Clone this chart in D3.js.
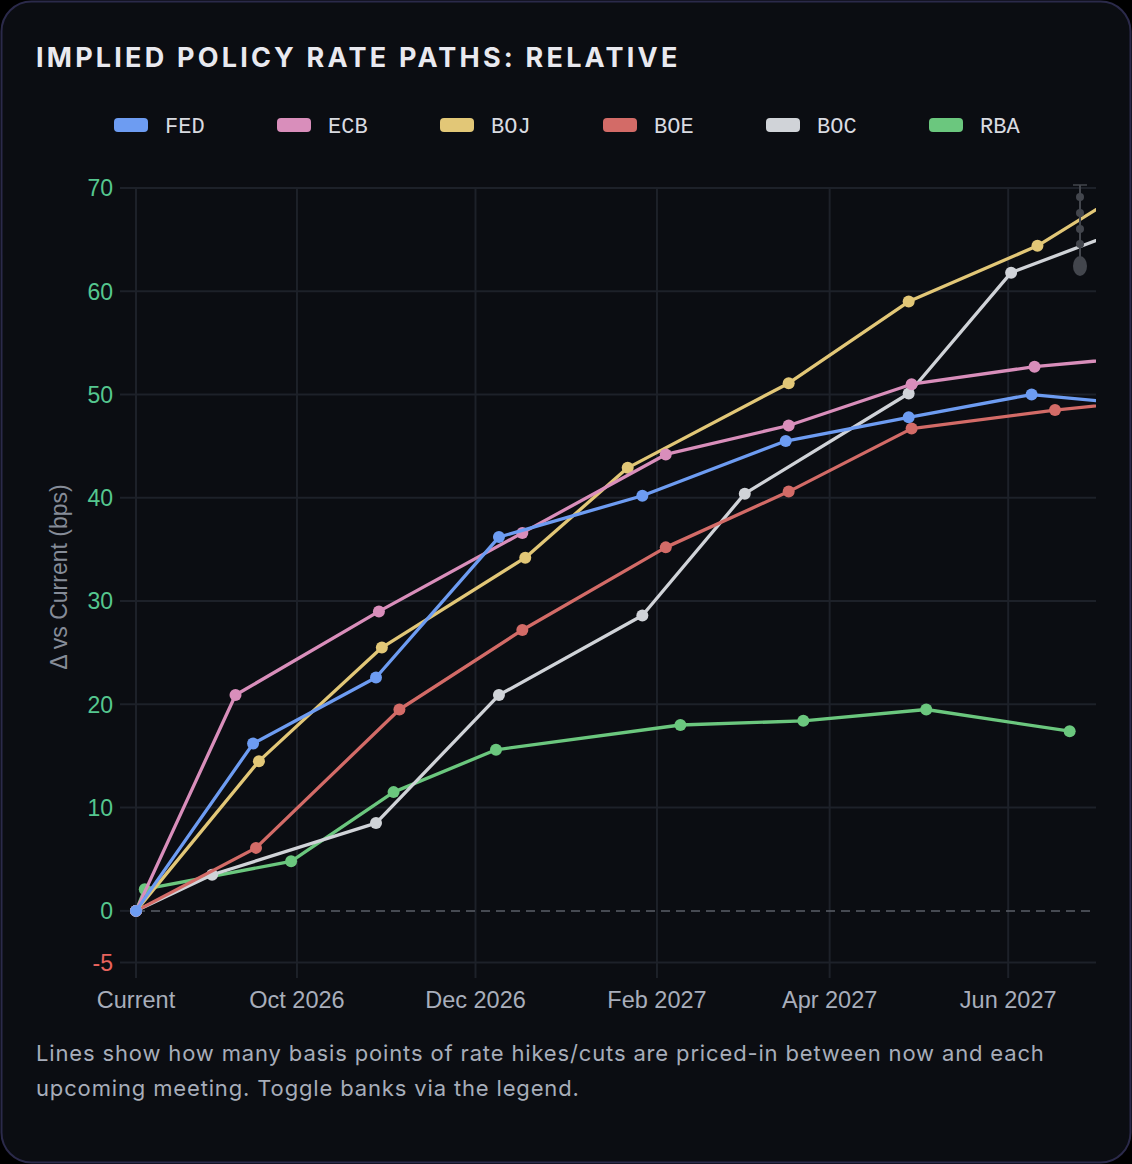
<!DOCTYPE html>
<html>
<head>
<meta charset="utf-8">
<script src="https://cdn.jsdelivr.net/npm/d3@7"></script>
<style>
  html, body { margin: 0; padding: 0; background: #000; }
  svg { display: block; }
</style>
</head>
<body>
<svg id="chart" width="1132" height="1164"></svg>
<script>
// ---- data ----
const banks = ['FED', 'ECB', 'BOJ', 'BOE', 'BOC', 'RBA'];
const bankColors = ['#6d9cf2', '#d98ebb', '#e2c777', '#d36b67', '#d0d3d8', '#6bc77e'];

const currentDate = '2026-08-07';
const endDate = '2027-07-01';
const xTickDates = ['2026-08-07', '2026-10-01', '2026-12-01', '2027-02-01', '2027-04-01', '2027-06-01'];
const yTickValues = [-5, 0, 10, 20, 30, 40, 50, 60, 70];

const fedDates = ['2026-08-07', '2026-09-16', '2026-10-28', '2026-12-09', '2027-01-27', '2027-03-17', '2027-04-28', '2027-06-09', '2027-07-28'];
const fedValues = [0, 16.2, 22.6, 36.2, 40.2, 45.5, 47.8, 50.0, 48.7];

const ecbDates = ['2026-08-07', '2026-09-10', '2026-10-29', '2026-12-17', '2027-02-04', '2027-03-18', '2027-04-29', '2027-06-10', '2027-07-22'];
const ecbValues = [0, 20.9, 29.0, 36.6, 44.2, 47.0, 51.0, 52.7, 53.8];

const bojDates = ['2026-08-07', '2026-09-18', '2026-10-30', '2026-12-18', '2027-01-22', '2027-03-18', '2027-04-28', '2027-06-11', '2027-07-30'];
const bojValues = [0, 14.5, 25.5, 34.2, 42.9, 51.1, 59.0, 64.4, 73.0];

const boeDates = ['2026-08-07', '2026-09-17', '2026-11-05', '2026-12-17', '2027-02-04', '2027-03-18', '2027-04-29', '2027-06-17', '2027-08-05'];
const boeValues = [0, 6.1, 19.5, 27.2, 35.2, 40.6, 46.7, 48.5, 49.9];

const bocDates = ['2026-08-07', '2026-09-02', '2026-10-28', '2026-12-09', '2027-01-27', '2027-03-03', '2027-04-28', '2027-06-02', '2027-07-14'];
const bocValues = [0, 3.5, 8.5, 20.9, 28.6, 40.4, 50.1, 61.8, 66.3];

const rbaDates = ['2026-08-07', '2026-08-10', '2026-09-29', '2026-11-03', '2026-12-08', '2027-02-09', '2027-03-23', '2027-05-04', '2027-06-22'];
const rbaValues = [0, 2.1, 4.8, 11.5, 15.6, 18.0, 18.4, 19.5, 17.4];

const seriesDates = [fedDates, ecbDates, bojDates, boeDates, bocDates, rbaDates];
const seriesValues = [fedValues, ecbValues, bojValues, boeValues, bocValues, rbaValues];

// ---- layout ----
const W = 1132, H = 1164;
const margin = { top: 188, right: 36, bottom: 186, left: 136 };
const parse = d3.utcParse('%Y-%m-%d');
const sans = '"Liberation Sans", Arial, sans-serif';

const svg = d3.select('#chart');

// card
svg.append('rect')
    .attr('x', 1.5).attr('y', 1.5)
    .attr('width', W - 3).attr('height', H - 3)
    .attr('rx', 30)
    .attr('fill', '#0b0d12')
    .attr('stroke', '#2b2a4a')
    .attr('stroke-width', 2);

svg.append('text')
    .attr('x', 36).attr('y', 67)
    .attr('fill', '#e9e9ef')
    .style('font-family', 'Inter, "DejaVu Sans", sans-serif')
    .style('font-weight', 700)
    .style('font-size', '27px')
    .style('letter-spacing', '3.2px')
    .text('IMPLIED POLICY RATE PATHS: RELATIVE');

// legend
const legend = svg.append('g').attr('class', 'legend')
    .attr('transform', 'translate(114, 125)');

banks.forEach((b, i) => {
    const item = legend.append('g').attr('transform', `translate(${i * 163}, 0)`);
    item.append('rect')
        .attr('x', 0).attr('y', -7)
        .attr('width', 34).attr('height', 14)
        .attr('rx', 4)
        .attr('fill', bankColors[i]);
    item.append('text')
        .attr('x', 51).attr('y', 8)
        .attr('fill', '#d9dbe1')
        .style('font-family', '"Liberation Mono", "DejaVu Sans Mono", monospace')
        .style('font-size', '22px')
        .text(b);
});

// scales
const x = d3.scaleUtc()
    .domain([parse(currentDate), parse(endDate)])
    .range([margin.left, W - margin.right]);

const y = d3.scaleLinear()
    .domain([-6.5, 70])
    .range([H - margin.bottom, margin.top]);

const gridColor = '#1d2129';

// vertical grid
svg.append('g').selectAll('line')
    .data(xTickDates)
    .join('line')
    .attr('x1', d => x(parse(d))).attr('x2', d => x(parse(d)))
    .attr('y1', margin.top).attr('y2', H - margin.bottom)
    .attr('stroke', gridColor).attr('stroke-width', 2);

// horizontal grid (0 is drawn dashed below)
svg.append('g').selectAll('line')
    .data(yTickValues.filter(v => v !== 0))
    .join('line')
    .attr('x1', margin.left - 16).attr('x2', W - margin.right)
    .attr('y1', d => y(d)).attr('y2', d => y(d))
    .attr('stroke', gridColor).attr('stroke-width', 2);

svg.append('line')
    .attr('x1', margin.left - 16).attr('x2', margin.left)
    .attr('y1', y(0)).attr('y2', y(0))
    .attr('stroke', gridColor).attr('stroke-width', 2);

svg.append('line')
    .attr('x1', margin.left).attr('x2', W - margin.right)
    .attr('y1', y(0)).attr('y2', y(0))
    .attr('stroke', '#5b5f68')
    .attr('stroke-width', 1.5)
    .attr('stroke-dasharray', '9,6');

// y tick labels
svg.append('g').selectAll('text')
    .data(yTickValues)
    .join('text')
    .attr('x', margin.left - 23)
    .attr('y', d => y(d))
    .attr('dy', '0.36em')
    .attr('text-anchor', 'end')
    .attr('fill', d => d < 0 ? '#e8635d' : '#55c78f')
    .style('font-family', sans)
    .style('font-size', '23px')
    .text(d => d);

// x tick labels
const monthFmt = d3.utcFormat('%b %Y');
svg.append('g').selectAll('text')
    .data(xTickDates)
    .join('text')
    .attr('x', d => x(parse(d)))
    .attr('y', 1008)
    .attr('text-anchor', 'middle')
    .attr('fill', '#a8aebb')
    .style('font-family', sans)
    .style('font-size', '23.5px')
    .text((d, i) => i === 0 ? 'Current' : monthFmt(parse(d)));

// y axis title
svg.append('text')
    .attr('transform', 'translate(67, 577) rotate(-90)')
    .attr('text-anchor', 'middle')
    .attr('fill', '#868c98')
    .style('font-family', sans)
    .style('font-size', '23px')
    .text('Δ vs Current (bps)');

// clip
svg.append('clipPath').attr('id', 'plot-clip')
    .append('rect')
    .attr('x', margin.left - 10).attr('y', margin.top - 30)
    .attr('width', W - margin.right - margin.left + 10)
    .attr('height', H - margin.bottom - margin.top + 30);

const line = d3.line()
    .x(d => x(d.date))
    .y(d => y(d.value));

const plot = svg.append('g').attr('clip-path', 'url(#plot-clip)');
const xMax = parse(endDate);

// draw from last to first so FED ends up on top
d3.range(banks.length).reverse().forEach(i => {
    const pts = seriesDates[i].map((d, j) => ({ date: parse(d), value: seriesValues[i][j] }));
    plot.append('path')
        .datum(pts)
        .attr('fill', 'none')
        .attr('stroke', bankColors[i])
        .attr('stroke-width', 3.3)
        .attr('stroke-linejoin', 'round')
        .attr('d', line);
    plot.selectAll(null)
        .data(pts.filter(p => p.date <= xMax))
        .join('circle')
        .attr('cx', d => x(d.date))
        .attr('cy', d => y(d.value))
        .attr('r', 6)
        .attr('fill', bankColors[i]);
});

// small grey toolbar-like marker in the top right corner of the plot
const deco = svg.append('g').attr('fill', '#43464d').attr('stroke', '#43464d');
deco.append('line').attr('x1', 1073).attr('x2', 1087).attr('y1', 185).attr('y2', 185).attr('stroke-width', 1.5);
deco.append('line').attr('x1', 1080).attr('x2', 1080).attr('y1', 185).attr('y2', 262).attr('stroke-width', 2);
[197, 213, 229, 244].forEach(cy => deco.append('circle').attr('cx', 1080).attr('cy', cy).attr('r', 4).attr('stroke', 'none'));
deco.append('ellipse').attr('cx', 1080).attr('cy', 266).attr('rx', 7).attr('ry', 10).attr('stroke', 'none');

// caption
const caption = svg.append('text')
    .attr('fill', '#a7adba')
    .style('font-family', 'Inter, "Open Sans", sans-serif')
    .style('font-size', '22px')
    .style('letter-spacing', '0.85px');
caption.append('tspan').attr('x', 36).attr('y', 1061)
    .text('Lines show how many basis points of rate hikes/cuts are priced-in between now and each');
caption.append('tspan').attr('x', 36).attr('y', 1096)
    .text('upcoming meeting. Toggle banks via the legend.');
</script>
</body>
</html>
